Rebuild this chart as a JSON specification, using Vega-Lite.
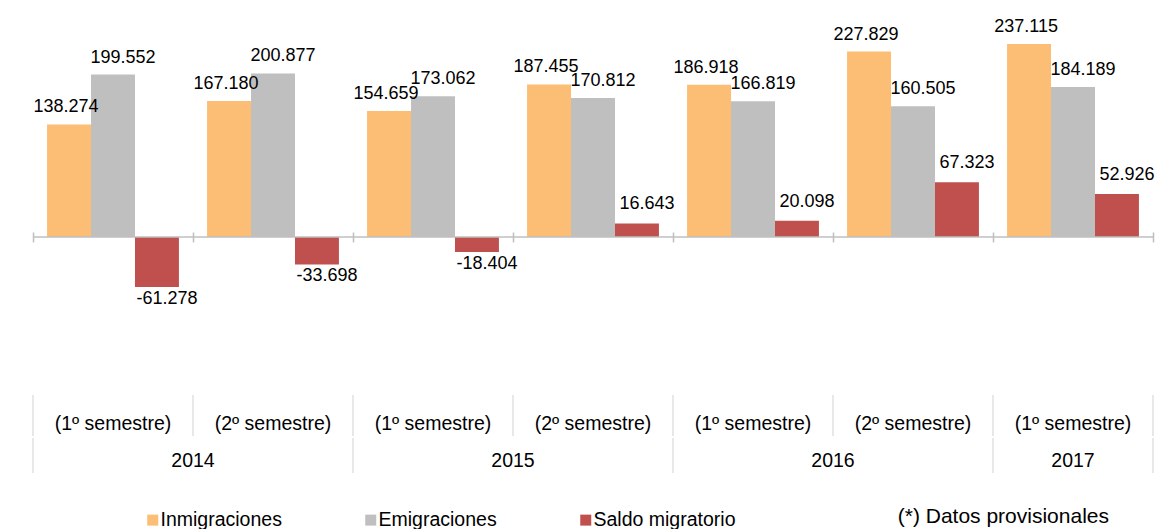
{
  "$schema": "https://vega.github.io/schema/vega-lite/v6.json",
  "padding": {"left": 32, "top": 0, "right": 4, "bottom": 0},
  "autosize": {"type": "pad"},
  "config": {
    "font": "Liberation Sans",
    "view": {"stroke": null},
    "locale": {"number": {"decimal": ",", "thousands": ".", "grouping": [3], "currency": ["", " €"], "minus": "-"}},
    "concat": {"spacing": 0},
    "text": {"color": "#000000"}
  },
  "datasets": {
    "migra": [
      {"periodo": "2014-1", "serie": "Inmigraciones", "valor": 138274},
      {"periodo": "2014-1", "serie": "Emigraciones", "valor": 199552},
      {"periodo": "2014-1", "serie": "Saldo migratorio", "valor": -61278},
      {"periodo": "2014-2", "serie": "Inmigraciones", "valor": 167180},
      {"periodo": "2014-2", "serie": "Emigraciones", "valor": 200877},
      {"periodo": "2014-2", "serie": "Saldo migratorio", "valor": -33698},
      {"periodo": "2015-1", "serie": "Inmigraciones", "valor": 154659},
      {"periodo": "2015-1", "serie": "Emigraciones", "valor": 173062},
      {"periodo": "2015-1", "serie": "Saldo migratorio", "valor": -18404},
      {"periodo": "2015-2", "serie": "Inmigraciones", "valor": 187455},
      {"periodo": "2015-2", "serie": "Emigraciones", "valor": 170812},
      {"periodo": "2015-2", "serie": "Saldo migratorio", "valor": 16643},
      {"periodo": "2016-1", "serie": "Inmigraciones", "valor": 186918},
      {"periodo": "2016-1", "serie": "Emigraciones", "valor": 166819},
      {"periodo": "2016-1", "serie": "Saldo migratorio", "valor": 20098},
      {"periodo": "2016-2", "serie": "Inmigraciones", "valor": 227829},
      {"periodo": "2016-2", "serie": "Emigraciones", "valor": 160505},
      {"periodo": "2016-2", "serie": "Saldo migratorio", "valor": 67323},
      {"periodo": "2017-1", "serie": "Inmigraciones", "valor": 237115},
      {"periodo": "2017-1", "serie": "Emigraciones", "valor": 184189},
      {"periodo": "2017-1", "serie": "Saldo migratorio", "valor": 52926}
    ],
    "periodos": [
      {"periodo": "2014-1", "orden": 1, "anio": "2014", "semestre": "(1º semestre)"},
      {"periodo": "2014-2", "orden": 2, "anio": "2014", "semestre": "(2º semestre)"},
      {"periodo": "2015-1", "orden": 3, "anio": "2015", "semestre": "(1º semestre)"},
      {"periodo": "2015-2", "orden": 4, "anio": "2015", "semestre": "(2º semestre)"},
      {"periodo": "2016-1", "orden": 5, "anio": "2016", "semestre": "(1º semestre)"},
      {"periodo": "2016-2", "orden": 6, "anio": "2016", "semestre": "(2º semestre)"},
      {"periodo": "2017-1", "orden": 7, "anio": "2017", "semestre": "(1º semestre)"}
    ]
  },
  "resolve": {"scale": {"x": "independent"}},
  "vconcat": [
    {
      "width": 1120,
      "height": 394,
      "data": {"name": "migra"},
      "layer": [
        {
          "mark": {"type": "bar"},
          "encoding": {
            "x": {"field": "periodo", "type": "nominal",
              "scale": {"type": "band", "domain": ["2014-1","2014-2","2015-1","2015-2","2016-1","2016-2","2017-1"], "paddingInner": 0, "paddingOuter": 0},
              "axis": {"orient": "bottom", "offset": -162, "labels": false, "domain": false, "ticks": true, "tickBand": "extent", "tickSize": 10, "tickColor": "#bfbfbf", "tickWidth": 1.5, "title": null, "grid": false}},
            "xOffset": {"field": "serie", "type": "nominal", "scale": {"domain": ["Inmigraciones", "Emigraciones", "Saldo migratorio"], "paddingInner": 0, "paddingOuter": 0.32}},
            "y": {"field": "valor", "type": "quantitative", "scale": {"domain": [-192890, 291178], "nice": false, "zero": false}, "axis": null},
            "color": {"field": "serie", "type": "nominal",
              "scale": {"domain": ["Inmigraciones", "Emigraciones", "Saldo migratorio"], "range": ["#fcbd75", "#bfbfbf", "#c0504d"]},
              "legend": {"orient": "none", "legendX": 110, "legendY": 510, "direction": "horizontal", "title": null, "symbolType": "square", "symbolSize": 121, "symbolStrokeWidth": 0, "symbolOpacity": 1, "labelFontSize": 19.5, "labelColor": "#000000", "labelOffset": -2, "columnPadding": 79, "labelLimit": 300}}
          }
        },
        {
          "data": {"values": [{"cero": 0}]},
          "mark": {"type": "rule", "color": "#bfbfbf", "strokeWidth": 1.5},
          "encoding": {"y": {"field": "cero", "type": "quantitative"}}
        },
        {
          "transform": [{"filter": "datum.serie === 'Inmigraciones'"}],
          "mark": {"type": "text", "fontSize": 18, "baseline": "alphabetic", "dy": -12, "dx": -3},
          "encoding": {
            "x": {"field": "periodo", "type": "nominal"},
            "xOffset": {"field": "serie", "type": "nominal"},
            "y": {"field": "valor", "type": "quantitative"},
            "text": {"field": "valor", "type": "quantitative", "format": ",d"}
          }
        },
        {
          "transform": [{"filter": "datum.serie === 'Emigraciones'"}],
          "mark": {"type": "text", "fontSize": 18, "baseline": "alphabetic", "dy": -12, "dx": 10},
          "encoding": {
            "x": {"field": "periodo", "type": "nominal"},
            "xOffset": {"field": "serie", "type": "nominal"},
            "y": {"field": "valor", "type": "quantitative"},
            "text": {"field": "valor", "type": "quantitative", "format": ",d"}
          }
        },
        {
          "transform": [{"filter": "datum.serie === 'Saldo migratorio' && datum.valor >= 0"}],
          "mark": {"type": "text", "fontSize": 18, "baseline": "alphabetic", "dy": -14, "dx": 10},
          "encoding": {
            "x": {"field": "periodo", "type": "nominal"},
            "xOffset": {"field": "serie", "type": "nominal"},
            "y": {"field": "valor", "type": "quantitative"},
            "text": {"field": "valor", "type": "quantitative", "format": ",d"}
          }
        },
        {
          "transform": [{"filter": "datum.serie === 'Saldo migratorio' && datum.valor < 0"}],
          "mark": {"type": "text", "fontSize": 18, "baseline": "top", "dy": 3, "dx": 10},
          "encoding": {
            "x": {"field": "periodo", "type": "nominal"},
            "xOffset": {"field": "serie", "type": "nominal"},
            "y": {"field": "valor", "type": "quantitative"},
            "text": {"field": "valor", "type": "quantitative", "format": ",d"}
          }
        }
      ]
    },
    {
      "width": 1120,
      "height": 41,
      "data": {"name": "periodos"},
      "layer": [
        {
          "mark": {"type": "rule", "color": "#d9d9d9", "strokeWidth": 1.2},
          "encoding": {
            "x": {"field": "periodo", "type": "nominal", "bandPosition": 0,
              "scale": {"type": "band", "domain": ["2014-1","2014-2","2015-1","2015-2","2016-1","2016-2","2017-1"], "paddingInner": 0, "paddingOuter": 0},
              "axis": null}
          }
        },
        {
          "transform": [{"filter": "datum.periodo === '2017-1'"}],
          "mark": {"type": "rule", "color": "#d9d9d9", "strokeWidth": 1.2},
          "encoding": {"x": {"field": "periodo", "type": "nominal", "bandPosition": 1}}
        },
        {
          "mark": {"type": "text", "fontSize": 19.5, "dy": 8},
          "encoding": {
            "x": {"field": "periodo", "type": "nominal", "bandPosition": 0.5},
            "text": {"field": "semestre", "type": "nominal"}
          }
        }
      ]
    },
    {
      "width": 1120,
      "height": 35,
      "data": {"name": "periodos"},
      "title": {
        "text": "(*) Datos provisionales",
        "orient": "bottom",
        "anchor": "end",
        "frame": "group",
        "fontSize": 21,
        "fontWeight": "normal",
        "color": "#000000",
        "baseline": "top",
        "offset": 32,
        "dx": -44
      },
      "resolve": {"scale": {"x": "independent"}},
      "layer": [
        {
          "transform": [{"filter": "datum.semestre === '(1º semestre)'"}],
          "mark": {"type": "rule", "color": "#d9d9d9", "strokeWidth": 1.2},
          "encoding": {
            "x": {"field": "periodo", "type": "nominal", "bandPosition": 0,
              "scale": {"type": "band", "domain": ["2014-1","2014-2","2015-1","2015-2","2016-1","2016-2","2017-1"], "paddingInner": 0, "paddingOuter": 0},
              "axis": null}
          }
        },
        {
          "transform": [{"filter": "datum.periodo === '2017-1'"}],
          "mark": {"type": "rule", "color": "#d9d9d9", "strokeWidth": 1.2},
          "encoding": {
            "x": {"field": "periodo", "type": "nominal", "bandPosition": 1,
              "scale": {"type": "band", "domain": ["2014-1","2014-2","2015-1","2015-2","2016-1","2016-2","2017-1"], "paddingInner": 0, "paddingOuter": 0},
              "axis": null}
          }
        },
        {
          "mark": {"type": "text", "fontSize": 19.5, "dy": 5},
          "encoding": {
            "x": {"field": "orden", "type": "quantitative", "aggregate": "mean", "scale": {"domain": [0.5, 7.5], "nice": false, "zero": false}, "axis": null},
            "detail": {"field": "anio", "type": "nominal"},
            "text": {"field": "anio", "type": "nominal"}
          }
        }
      ]
    }
  ]
}
